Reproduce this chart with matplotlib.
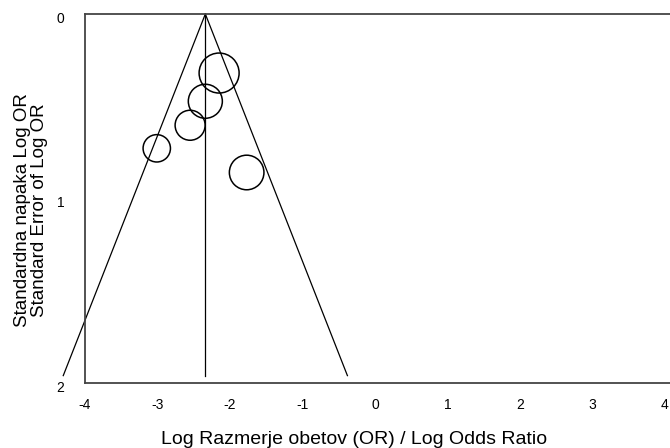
import numpy as np
import matplotlib.pyplot as plt
import matplotlib.transforms as mtransforms

plt.rcParams['font.family'] = ['Liberation Sans', 'DejaVu Sans']

# pooled estimate and individual studies
pooled = -2.34
log_or = [-2.15, -2.34, -2.55, -3.01, -1.77]
se = [0.32, 0.473, 0.603, 0.728, 0.859]
marker_d = [28.8, 24.5, 21.6, 19.7, 24.9]  # marker diameter (pt), ~study weight
se_max = 1.96

xticks = [-4, -3, -2, -1, 0, 1, 2, 3, 4]
xticklabels = ['-4', '-3', '-2', '-1', '0', '1', '2', '3', '4']
yticks = [0, 1, 2]

fig = plt.figure(figsize=(6.7, 4.48), dpi=100)
ax = fig.add_axes([85 / 670, 65 / 448, 585 / 670, 369 / 448])

se_line = np.array([0, se_max])
ax.plot(pooled - se_line, se_line, color='black', lw=0.9, clip_on=False)
ax.plot(pooled + se_line, se_line, color='black', lw=0.9, clip_on=False)
ax.plot([pooled, pooled], se_line, color='black', lw=0.9, clip_on=False)

ax.scatter(log_or, se, s=np.array(marker_d) ** 2, facecolors='none',
           edgecolors='black', linewidths=1.1, zorder=3, clip_on=False)

ax.set_xlim(-4, 4.07)
ax.set_ylim(2, 0)
ax.set_xticks(xticks)
ax.set_xticklabels(xticklabels)
ax.set_yticks(yticks)
ax.tick_params(length=0, labelsize=10)
ax.tick_params(axis='x', pad=11)
ax.tick_params(axis='y', pad=15)

off = mtransforms.ScaledTranslation(0, -2.5 / 72, fig.dpi_scale_trans)
for lbl in ax.get_yticklabels():
    lbl.set_transform(lbl.get_transform() + off)

for side in ['top', 'left', 'bottom']:
    ax.spines[side].set_color('#444444')
    ax.spines[side].set_linewidth(1.3)
ax.spines['right'].set_visible(False)

fig.text(354 / 670, 4.5 / 448, 'Log Razmerje obetov (OR) / Log Odds Ratio',
         fontsize=14, ha='center', va='baseline')
fig.text(31 / 670, 1 - 210 / 448, 'Standardna napaka Log OR\nStandard Error of Log OR',
         fontsize=13.5, rotation=90, ha='center', va='center', linespacing=1.07,
         multialignment='center')

fig.savefig('out.png', dpi=100)
